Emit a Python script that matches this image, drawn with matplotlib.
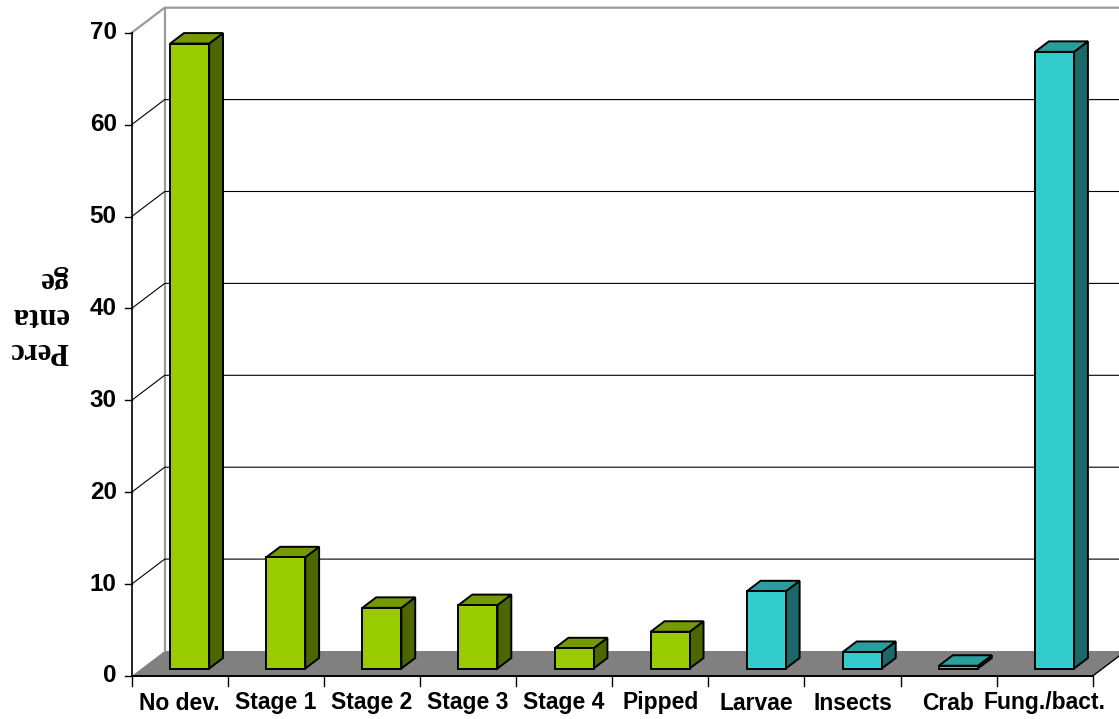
import matplotlib
matplotlib.use("Agg")
import matplotlib.pyplot as plt
from matplotlib.patches import Polygon

# ---- data ----
categories = ["No dev.", "Stage 1", "Stage 2", "Stage 3", "Stage 4",
              "Pipped", "Larvae", "Insects", "Crab", "Fung./bact."]
percentages = [68.0, 12.1, 6.6, 6.9, 2.2, 4.0, 8.4, 1.8, 0.3, 67.1]
groups = ["dev", "dev", "dev", "dev", "dev", "dev", "pred", "pred", "pred", "pred"]
y_ticks = [0, 10, 20, 30, 40, 50, 60, 70]
y_label = "Perc\nenta\nge"

# face colours per group: front, top, side
palette = {
    "dev": ("#99CC00", "#739A00", "#4D6600"),
    "pred": ("#33CCCC", "#2A9D9D", "#1C6767"),
}

# ---- oblique 3-D projection helpers ----
W, H, DPI = 1119, 719, 100
px_x = 96.1          # pixels per category
px_y = 9.19          # pixels per percent
x0_px, y0_px = 131.7, 676.0
DX = 33.0 / px_x     # depth shift in category units
DY = 25.0 / px_y     # depth shift in percent units
ymax = y_ticks[-1]
n = len(categories)


def proj(x, z, y):
    return (x + z * DX, y + z * DY)


fig = plt.figure(figsize=(W / DPI, H / DPI), dpi=DPI)
ax = fig.add_axes([0, 0, 1, 1])
ax.set_xlim(-x0_px / px_x, (W - x0_px) / px_x)
ax.set_ylim(-(H - y0_px) / px_y, y0_px / px_y)
ax.axis("off")

# floor
floor = Polygon([proj(0, 0, 0), proj(n, 0, 0), proj(n, 1, 0), proj(0, 1, 0)],
                closed=True, facecolor="#808080", edgecolor="none", zorder=1)
ax.add_patch(floor)
fx, fy = zip(proj(n, 0, 0), proj(n, 1, 0))
ax.plot(fx, fy, color="black", lw=1.0, zorder=2)
ax.plot([0, n], [0, 0], color="black", lw=1.4, zorder=2)

# walls and gridlines
wall_col = "#9A9A9A"
bx, by = zip(proj(0, 1, 0), proj(0, 1, ymax))
ax.plot(bx, by, color=wall_col, lw=1.6, zorder=1)
tx, ty = zip(proj(0, 0, ymax), proj(0, 1, ymax), proj(n, 1, ymax))
ax.plot(tx, ty, color=wall_col, lw=1.6, zorder=1)
for v in y_ticks[1:-1]:
    gx, gy = zip(proj(0, 0, v), proj(0, 1, v), proj(n, 1, v))
    ax.plot(gx, gy, color="black", lw=0.8, zorder=1)

# value axis
ax.plot([0, 0], [0, ymax], color="black", lw=1.2, zorder=2)
tick_len = 7.0 / px_x
for v in y_ticks:
    ax.plot([-tick_len, 0], [v, v], color="black", lw=1.0, zorder=2)
    ax.text(-15.0 / px_x, v, str(v), ha="right", va="center",
            family="Liberation Sans", fontweight="bold", fontsize=17.5)

# category axis ticks and labels
cat_tick = 10.0 / px_y
for i in range(n + 1):
    ax.plot([i, i], [0, -cat_tick], color="black", lw=1.0, zorder=2)
for i, lab in enumerate(categories):
    ax.text(i + 0.5, -27.0 / px_y, lab, ha="center", va="center",
            family="Liberation Sans", fontweight="bold", fontsize=16.5)

# bars
bar_w = 0.406
z_front, z_back = 0.30, 0.72
edge = dict(edgecolor="black", linewidth=1.4, joinstyle="miter")
for i, (val, grp) in enumerate(zip(percentages, groups)):
    front_c, top_c, side_c = palette[grp]
    xl = i + 0.5 - bar_w / 2
    xr = i + 0.5 + bar_w / 2
    front = [proj(xl, z_front, 0), proj(xr, z_front, 0),
             proj(xr, z_front, val), proj(xl, z_front, val)]
    side = [proj(xr, z_front, 0), proj(xr, z_back, 0),
            proj(xr, z_back, val), proj(xr, z_front, val)]
    top = [proj(xl, z_front, val), proj(xr, z_front, val),
           proj(xr, z_back, val), proj(xl, z_back, val)]
    ax.add_patch(Polygon(side, closed=True, facecolor=side_c, zorder=3, **edge))
    ax.add_patch(Polygon(top, closed=True, facecolor=top_c, zorder=3, **edge))
    ax.add_patch(Polygon(front, closed=True, facecolor=front_c, zorder=4, **edge))

# axis title, printed upside down
ax.text((68 - x0_px) / px_x, (y0_px - 315) / px_y, y_label, rotation=180,
        ha="right", va="center", multialignment="left",
        family="Liberation Serif", fontweight="bold", fontsize=22,
        linespacing=1.3)

fig.savefig("out.png", dpi=DPI)
